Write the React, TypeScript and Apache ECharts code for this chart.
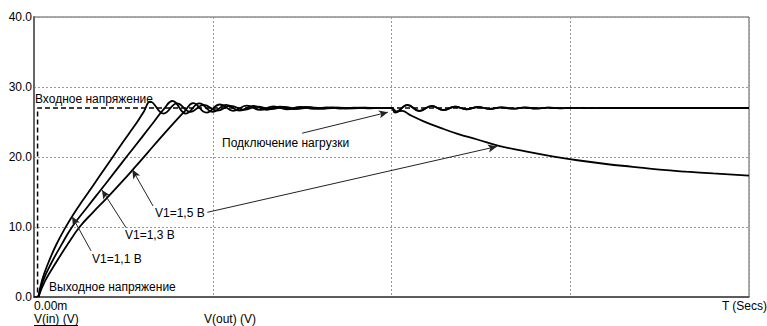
import React, { useEffect, useRef } from "react";
import * as echarts from "echarts";

// Time axis (ms) and voltage (V)
const xTicks = [0, 10, 20, 30, 40];
const yTicks = [0, 10, 20, 30, 40];

// Input voltage (dashed)
const inputT = [0, 0.2, 0.2, 40];
const inputV = [0, 0, 27, 27];

// V1 = 1,1 В
const tA = [0.25, 0.45, 0.82, 1.25, 1.73, 2.2, 2.7, 3.3, 4.0, 4.7, 5.3, 5.8, 6.15, 6.5, 7.25, 8.0, 8.75, 9.5, 10.25, 11.0, 11.75, 12.5, 13.25, 14.0, 14.75, 15.5, 16.25, 17.0, 17.75, 18.5, 19.25, 20.0, 20.2, 20.9, 21.55, 22.25, 22.9, 23.55, 24.2, 24.85, 25.5, 26.15, 26.8, 27.45, 28.1, 28.75, 29.4, 30.0, 31.0, 32.0, 40.0];
const vA = [0, 2.4, 5.0, 7.5, 9.8, 11.8, 13.7, 15.9, 18.5, 21.1, 23.3, 25.1, 26.5, 27.9, 26.2, 27.67, 26.45, 27.45, 26.63, 27.31, 26.75, 27.21, 26.83, 27.14, 26.89, 27.09, 26.92, 27.06, 26.95, 27.04, 26.98, 27.0, 26.35, 27.45, 26.55, 27.3, 26.7, 27.2, 26.8, 27.14, 26.86, 27.1, 26.9, 27.07, 26.93, 27.05, 26.96, 27.03, 26.99, 27.0, 27.0];

// V1 = 1,3 В
const tB = [0.25, 0.52, 1.0, 1.5, 2.13, 3.0, 3.8, 4.5, 5.2, 6.0, 6.7, 7.25, 7.75, 8.5, 9.25, 10.0, 10.75, 11.5, 12.25, 13.0, 13.75, 14.5, 15.25, 16.0, 16.75, 17.5, 18.25, 19.0, 20.0, 20.2, 20.9, 21.55, 22.25, 22.9, 23.55, 24.2, 24.85, 25.5, 26.15, 26.8, 27.45, 28.1, 28.75, 29.4, 30.0, 31.0, 32.0, 40.0];
const vB = [0, 2.4, 5.0, 7.3, 10.0, 12.9, 15.5, 17.8, 20.1, 22.7, 25.0, 26.8, 28.0, 26.2, 27.67, 26.45, 27.45, 26.63, 27.31, 26.75, 27.21, 26.83, 27.14, 26.89, 27.09, 26.93, 27.05, 26.97, 27.0, 26.4, 27.4, 26.6, 27.28, 26.72, 27.18, 26.82, 27.13, 26.87, 27.09, 26.91, 27.06, 26.94, 27.04, 26.97, 27.02, 26.99, 27.0, 27.0];

// V1 = 1,5 В (load connected at 20 ms)
const tC = [0.25, 0.62, 1.25, 1.9, 2.55, 3.3, 4.1, 4.9, 5.6, 6.35, 7.1, 7.8, 8.45, 8.9, 9.65, 10.4, 11.15, 11.9, 12.65, 13.4, 14.15, 14.9, 15.65, 16.4, 17.15, 17.9, 18.65, 19.4, 20.0, 20.3, 20.6, 21.0, 21.8, 22.7, 23.7, 24.8, 26.0, 27.5, 29.0, 30.5, 32.0, 33.5, 35.0, 36.5, 38.0, 40.0];
const vC = [0, 2.3, 5.0, 7.6, 10.0, 12.1, 14.2, 16.4, 18.4, 20.6, 22.8, 24.8, 26.6, 27.7, 26.35, 27.5, 26.6, 27.35, 26.72, 27.24, 26.82, 27.16, 26.88, 27.1, 26.93, 27.06, 26.96, 27.03, 27.0, 26.5, 26.6, 26.05, 25.1, 24.2, 23.3, 22.5, 21.6, 20.8, 20.1, 19.5, 19.0, 18.6, 18.2, 17.9, 17.65, 17.35];

const zip = (t: number[], v: number[]) => t.map((x, i) => [x, v[i]]);

const FONT = '"Liberation Sans", Arial, sans-serif';

export default function App() {
  const ref = useRef<HTMLDivElement>(null);
  useEffect(() => {
    if (!ref.current) return;
    const chart = echarts.init(ref.current, undefined, { renderer: "svg" });
    const arrow = (a: number[], b: number[]) => [
      { coord: a, symbol: "none" },
      { coord: b, symbol: "arrow", symbolSize: [6, 9] },
    ];
    const curve = (name: string, data: number[][]) => ({
      name,
      type: "line",
      data,
      showSymbol: false,
      symbol: "none",
      smooth: 0.45,
      lineStyle: { color: "#000", width: 1.8 },
      silent: true,
      z: 3,
    });
    const text = (t: string, x: number, y: number, align = "left") => ({
      type: "text",
      x,
      y,
      silent: true,
      style: {
        text: t,
        fill: "#000",
        fontSize: 12,
        lineHeight: 12,
        fontFamily: FONT,
        align,
        verticalAlign: "middle",
        textAlign: align,
        textVerticalAlign: "middle",
      },
    });
    chart.setOption({
      animation: false,
      grid: {
        left: 34,
        right: 18,
        top: 17,
        bottom: 29,
        show: true,
        borderColor: "#555",
        borderWidth: 1,
        backgroundColor: "#fff",
      },
      xAxis: {
        type: "value",
        min: xTicks[0],
        max: xTicks[xTicks.length - 1],
        interval: 10,
        axisLine: { show: true, lineStyle: { color: "#444", width: 1.5 } },
        axisTick: { show: false },
        splitLine: { show: true, lineStyle: { color: "#999", width: 1, type: [2, 2] } },
        axisLabel: {
          formatter: (v: number) => (v === 0 ? "0.00m" : ""),
          align: "left",
          margin: 3,
          lineHeight: 12,
          color: "#000",
          fontSize: 12,
          fontFamily: FONT,
        },
      },
      yAxis: {
        type: "value",
        min: yTicks[0],
        max: yTicks[yTicks.length - 1],
        interval: 10,
        axisLine: { show: true, lineStyle: { color: "#666", width: 2 } },
        axisTick: { show: false },
        splitLine: { show: true, lineStyle: { color: "#999", width: 1, type: [2, 2] } },
        axisLabel: {
          formatter: (v: number) => v.toFixed(1),
          margin: 2,
          color: "#000",
          fontSize: 12,
          fontFamily: FONT,
        },
      },
      series: [
        {
          name: "V(in)",
          type: "line",
          data: zip(inputT, inputV),
          showSymbol: false,
          symbol: "none",
          lineStyle: { color: "#000", width: 1.5, type: [5, 3] },
          silent: true,
          z: 2,
          markLine: {
            silent: true,
            animation: false,
            label: { show: false },
            lineStyle: { color: "#222", width: 1, type: "solid" },
            data: [
              arrow([15.0, 23.4], [19.8, 26.4]),
              arrow([9.7, 12.1], [25.9, 21.5]),
              arrow([6.66, 13.0], [5.5, 18.2]),
              arrow([5.15, 9.9], [3.8, 15.3]),
              arrow([3.19, 6.6], [2.13, 11.5]),
            ],
          },
        },
        curve("V1=1,1 В", zip(tA, vA)),
        curve("V1=1,3 В", zip(tB, vB)),
        curve("V1=1,5 В", zip(tC, vC)),
      ],
      graphic: [
        text("Входное напряжение", 35, 99),
        text("Выходное напряжение", 49, 287),
        text("V1=1,1 В", 92, 259),
        text("V1=1,3 В", 125, 235),
        text("V1=1,5 В", 155, 213),
        text("Подключение нагрузки", 222, 143),
        text("V(in) (V)", 34, 319),
        text("V(out) (V)", 204, 319),
        text("T (Secs)", 767, 306, "right"),
        {
          type: "line",
          silent: true,
          shape: { x1: 34, y1: 325.5, x2: 78, y2: 325.5 },
          style: { stroke: "#000", lineWidth: 1 },
        },
      ],
    });
    return () => chart.dispose();
  }, []);
  return (
    <div
      ref={ref}
      style={{ position: "absolute", left: 0, top: 0, width: 767, height: 326, background: "#fff" }}
    />
  );
}
